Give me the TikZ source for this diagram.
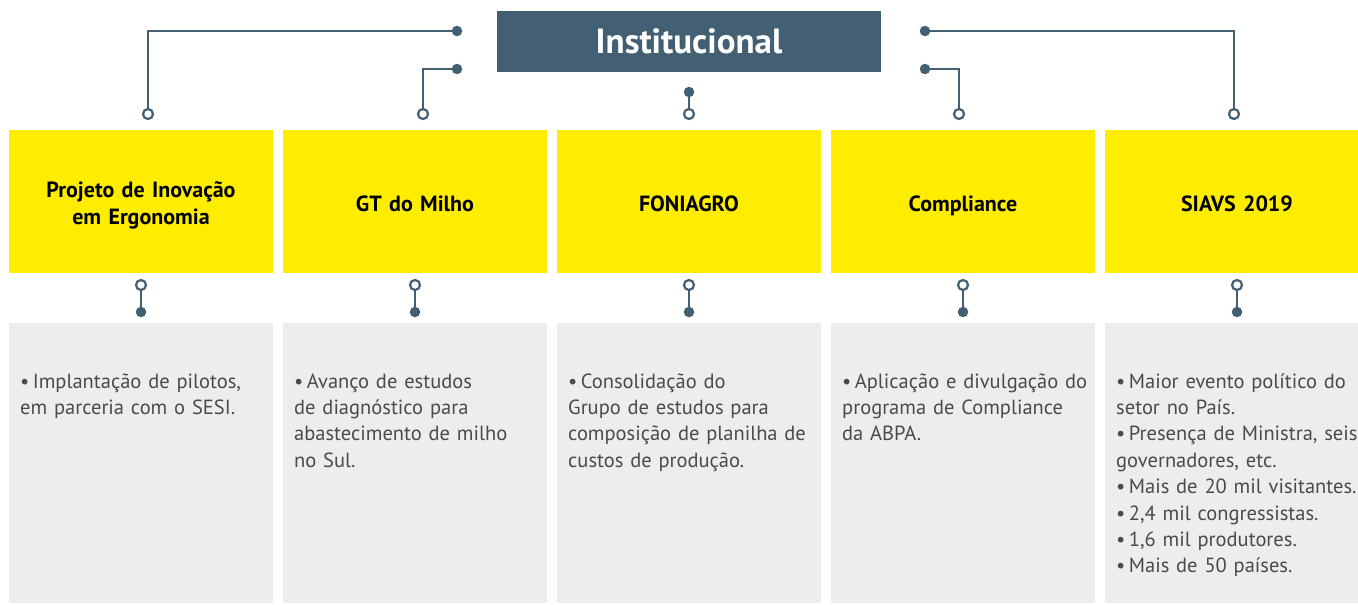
\documentclass[tikz,border=0pt]{standalone}
\usepackage{fontspec}
\setmainfont{PT Sans}[WordSpace=0.7]
\definecolor{navy}{HTML}{435F74}
\definecolor{ylw}{HTML}{FFED00}
\definecolor{lgray}{HTML}{EDEDED}
\definecolor{txtgray}{HTML}{4A4A4A}
\tikzset{
  ybox/.style={fill=ylw, minimum width=264pt, minimum height=143pt, inner sep=0pt},
  ytitle/.style={anchor=base, inner sep=0pt, text width=250pt, align=center,
    font=\bfseries\fontsize{22}{27.5}\selectfont, text=black},
  gbox/.style={fill=lgray, minimum width=264pt, minimum height=280pt, inner sep=0pt},
  body/.style={anchor=base west, inner sep=0pt, text width=255pt, align=left,
    font=\fontsize{20.5}{26.4}\selectfont, text=txtgray},
  opendot/.style={circle, draw=navy, fill=white, line width=2.2pt, inner sep=0pt, minimum size=10pt},
  filldot/.style={circle, fill=navy, inner sep=0pt, minimum size=10.5pt},
  wire/.style={draw=navy, line width=2.6pt},
}
\begin{document}
\begin{tikzpicture}[x=1pt,y=-1pt]
\clip (0,0) rectangle (1358,605);
\fill[white] (0,0) rectangle (1358,605);
% title
\node[fill=navy, minimum width=384pt, minimum height=61pt, inner sep=0pt, text=white,
  font=\bfseries\fontsize{35}{40}\selectfont] (title) at (689,41.5) {Institucional};
% yellow boxes
\node[ybox] (y1) at (141,201.5) {};
\node[ybox] (y2) at (415,201.5) {};
\node[ybox] (y3) at (689,201.5) {};
\node[ybox] (y4) at (963,201.5) {};
\node[ybox] (y5) at (1237,201.5) {};
\node[ytitle] (h1) at (141,197) {Projeto de Inovação\\em Ergonomia};
\node[ytitle] (h2) at (415,211) {GT do Milho};
\node[ytitle] (h3) at (689,211) {FONIAGRO};
\node[ytitle] (h4) at (963,211) {Compliance};
\node[ytitle] (h5) at (1237,211) {SIAVS 2019};
% gray boxes
\node[gbox] (g1) at (141,463) {};
\node[gbox] (g2) at (415,463) {};
\node[gbox] (g3) at (689,463) {};
\node[gbox] (g4) at (963,463) {};
\node[gbox] (g5) at (1237,463) {};
% body texts
\node[body] (t1) at (20,388) {\textbullet\,Implantação de pilotos,\\em parceria com o SESI.};
\node[body] (t2) at (294,388) {\textbullet\,Avanço de estudos\\de diagnóstico para\\abastecimento de milho\\no Sul.};
\node[body] (t3) at (568,388) {\textbullet\,Consolidação do\\Grupo de estudos para\\composição de planilha de\\custos de produção.};
\node[body] (t4) at (842,388) {\textbullet\,Aplicação e divulgação do\\programa de Compliance\\da ABPA.};
\node[body] (t5) at (1116,388) {\textbullet\,Maior evento político do\\setor no País.\\\textbullet\,Presença de Ministra, seis\\governadores, etc.\\\textbullet\,Mais de 20 mil visitantes.\\\textbullet\,2,4 mil congressistas.\\\textbullet\,1,6 mil produtores.\\\textbullet\,Mais de 50 países.};
% top connectors
\node[filldot] (d1) at (457,31) {};
\node[filldot] (d2) at (457,69) {};
\node[filldot] (d3) at (689,92) {};
\node[filldot] (d4) at (925,31) {};
\node[filldot] (d5) at (925,69) {};
\node[opendot] (o1) at (148,114) {};
\node[opendot] (o2) at (423,114) {};
\node[opendot] (o3) at (689,114) {};
\node[opendot] (o4) at (959,114) {};
\node[opendot] (o5) at (1234,114) {};
\draw[wire] (d1) -| (o1);
\draw[wire] (d2) -| (o2);
\draw[wire] (d3) -- (o3);
\draw[wire] (d5) -| (o4);
\draw[wire] (d4) -| (o5);
% lower connectors
\foreach \i/\x in {1/141,2/415,3/689,4/963,5/1237}{
  \node[opendot] (lo\i) at (\x,285) {};
  \node[filldot] (lf\i) at (\x,312) {};
  \draw[wire] (lo\i) -- (lf\i);
}
\end{tikzpicture}
\end{document}
